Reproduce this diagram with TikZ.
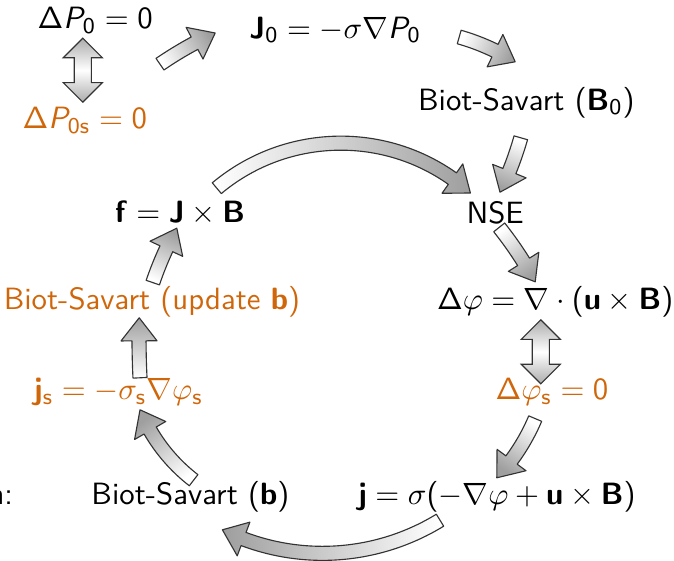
\documentclass[tikz,border=0pt,11pt]{standalone}
\usepackage{amsmath}
\usetikzlibrary{calc,shapes.arrows}
\renewcommand{\familydefault}{\sfdefault}
% sans serif math, as on the slides
\SetSymbolFont{operators}{normal}{OT1}{cmss}{m}{n}
\SetMathAlphabet{\mathbf}{normal}{OT1}{cmss}{bx}{n}
\SetMathAlphabet{\mathrm}{normal}{OT1}{cmss}{m}{n}
\DeclareSymbolFont{sfslanted}{OT1}{cmss}{m}{sl}
\DeclareMathSymbol{P}{\mathalpha}{sfslanted}{`P}
\definecolor{accent}{RGB}{208,102,10}

% sizes of the fat arrows
\newcommand{\fatshaft}{2.5pt}
\newcommand{\fathead}{6.4pt}
\newcommand{\fatheadlen}{8.2pt}
% fat arrow along an arc: #1 tail, #2 tip, #3 bend
\newcommand{\fatarrow}[3]{%
  \path[fatarrow] let \p1=#1, \p2=#2,
      \n1={veclen(\x2-\x1,\y2-\y1)},
      \n2={atan2(\y2-\y1,\x2-\x1)},
      \n3={\n1/(2*sin(#3))},
      \p3=($(\p1)+(\n2+#3-90:\n3)$),
      \n4={\n2+#3+90},
      \n5={\n2-#3+90+\fatheadlen/\n3*180/pi},
      \n6={\n3+\fatshaft}, \n7={\n3-\fatshaft},
      \n8={\n3+\fathead}, \n9={\n3-\fathead}
    in [shading angle=\n2+90]
      ($(\p3)+(\n4:\n6)$) arc[start angle=\n4, end angle=\n5, radius=\n6]
      -- ($(\p3)+(\n5:\n8)$) -- (\p2) -- ($(\p3)+(\n5:\n9)$)
      -- ($(\p3)+(\n5:\n7)$) arc[start angle=\n5, end angle=\n4, radius=\n7]
      -- cycle;}

\begin{document}
\begin{tikzpicture}[
    fatarrow/.style={draw=black!80, line width=0.4pt, line join=round, top color=white, bottom color=gray!75},
    dblarrow/.style={double arrow, draw=black!80, line width=0.4pt, shape border rotate=90,
      minimum height=0.8cm, inner sep=0.1cm, double arrow head extend=0.1375cm,
      top color=gray!65, bottom color=gray!65, middle color=white},
    eq/.style={inner sep=0pt},
    src/.style={eq, text=accent},
  ]
  \useasboundingbox (0,0) rectangle (8.425,7.0125);

  \node[eq] (dP0) at (1.19,6.76) {$\Delta P_0 = 0$};
  \node[src] (dP0s) at (1.06,5.51) {$\Delta P_{0\mathrm{s}} = 0$};
  \node[eq] (J0) at (4.19,6.64) {$\mathbf{J}_0 = -\sigma\nabla P_0$};
  \node[eq] (bsB0) at (6.58,5.73) {Biot-Savart ($\mathbf{B}_0$)};
  \node[eq] (nse) at (6.19,4.35) {NSE};
  \node[eq] (force) at (2.25,4.35) {$\mathbf{f} = \mathbf{J}\times\mathbf{B}$};
  \node[eq] (dphi) at (6.94,3.24) {$\Delta\varphi = \nabla\cdot(\mathbf{u}\times\mathbf{B})$};
  \node[src] (bsu) at (1.90,3.24) {Biot-Savart (update $\mathbf{b}$)};
  \node[src] (dphis) at (6.90,2.11) {$\Delta\varphi_\mathrm{s} = 0$};
  \node[src] (js) at (1.48,2.11) {$\mathbf{j}_\mathrm{s} = -\sigma_\mathrm{s}\nabla\varphi_\mathrm{s}$};
  \node[eq] (bsb) at (2.38,0.80) {Biot-Savart ($\mathbf{b}$)};
  \node[eq] (curr) at (6.21,0.80) {$\mathbf{j} = \sigma(-\nabla\varphi + \mathbf{u}\times\mathbf{B})$};
  \node[eq, anchor=east] (lbl) at (0.17,0.80) {n:};

  \node[dblarrow] (dbl1) at ($(dP0)!0.5!(dP0s)+(-0.09,0)$) {};
  \node[dblarrow] (dbl2) at ($(dphi)!0.5!(dphis)+(-0.16,-0.06)$) {};

  \fatarrow{([shift={(0.81,-0.55)}]dP0.center)}{([shift={(-1.50,-0.04)}]J0.center)}{5}
  \fatarrow{([shift={(1.55,-0.09)}]J0.center)}{([shift={(-0.14,0.51)}]bsB0.center)}{8}
  \fatarrow{([shift={(-0.07,-0.44)}]bsB0.center)}{([shift={(0.06,0.26)}]nse.center)}{5}
  \fatarrow{([shift={(0.46,0.31)}]force.center)}{([shift={(-0.31,0.25)}]nse.center)}{41}
  \fatarrow{([shift={(0.05,-0.18)}]nse.center)}{([shift={(-0.25,0.25)}]dphi.center)}{5}
  \fatarrow{([shift={(-0.21,-0.33)}]dphis.center)}{([shift={(0,0.24)}]curr.center)}{10}
  \fatarrow{([shift={(-0.71,-0.29)}]curr.center)}{([shift={(0.40,-0.41)}]bsb.center)}{29}
  \fatarrow{([shift={(0.04,0.21)}]bsb.center)}{([shift={(0.27,-0.22)}]js.center)}{15}
  \fatarrow{([shift={(0.27,0.18)}]js.center)}{([shift={(-0.16,-0.20)}]bsu.center)}{2}
  \fatarrow{([shift={(0.01,0.24)}]bsu.center)}{([shift={(-0.04,-0.19)}]force.center)}{5}
\end{tikzpicture}
\end{document}
